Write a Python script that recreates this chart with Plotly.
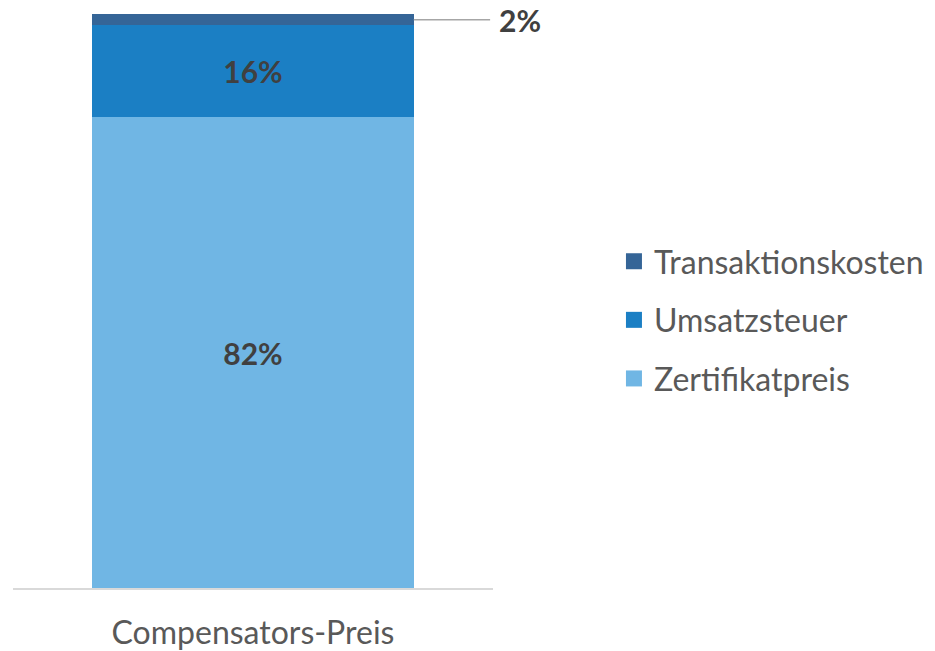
import plotly.graph_objects as go

categories = ["Compensators-Preis"]
series_names = ["Zertifikatpreis", "Umsatzsteuer", "Transaktionskosten"]
series_values = [[82], [16], [2]]
series_colors = ["#70B6E4", "#1B7FC4", "#356597"]
legend_ranks = [3, 2, 1]

FONT = "Lato"
TXT = "#404040"

fig = go.Figure()
for name, vals, col, rk in zip(series_names, series_values, series_colors, legend_ranks):
    inside = vals[0] >= 5
    fig.add_trace(go.Bar(
        x=categories, y=vals, name=name, marker=dict(color=col, line=dict(width=0)),
        text=[f"{v}%" for v in vals] if inside else None,
        textposition="inside" if inside else "none",
        insidetextanchor="middle",
        textfont=dict(family=FONT, size=30, color=TXT, weight="bold"),
        hoverinfo="skip",
        showlegend=False,
    ))
    # legend entry with a larger square swatch
    fig.add_trace(go.Scatter(
        x=[None], y=[None], mode="markers", name=name,
        marker=dict(symbol="square", size=16, color=col),
        legendgroup=name, legendrank=rk, hoverinfo="skip",
    ))

# outside label for the small top segment
top_val = series_values[2][0]
y_mid = series_values[0][0] + series_values[1][0] + top_val / 2
bargap = 0.33
edge = (1 - bargap) / 2
fig.add_shape(type="line", xref="x", yref="y", x0=edge, x1=0.494, y0=y_mid, y1=y_mid,
              line=dict(color="#A6A6A6", width=1.5))
fig.add_annotation(x=0.5, y=y_mid, xref="x", yref="y", text=f"<b>{top_val}%</b>",
                   showarrow=False, xanchor="left", xshift=5, borderpad=0,
                   font=dict(family=FONT, size=30, color=TXT))

fig.update_layout(
    barmode="stack",
    bargap=bargap,
    width=927, height=643,
    margin=dict(l=5, r=442, t=6, b=63, autoexpand=False),
    paper_bgcolor="white", plot_bgcolor="white",
    showlegend=True,
    legend=dict(x=1.252, xanchor="left", y=0.467, yanchor="middle",
                font=dict(family=FONT, size=32, color="#595959"),
                traceorder="grouped", tracegroupgap=14,
                itemwidth=30),
    xaxis=dict(showline=True, linecolor="#D9D9D9", linewidth=2, ticks="",
               tickfont=dict(family=FONT, size=32, color="#595959"),
               ticklabelstandoff=16,
               range=[-0.5, 0.5], fixedrange=True, showgrid=False, zeroline=False),
    yaxis=dict(range=[0, 100], visible=False, showgrid=False, fixedrange=True),
    font=dict(family=FONT),
)

fig.write_html("out.html")
